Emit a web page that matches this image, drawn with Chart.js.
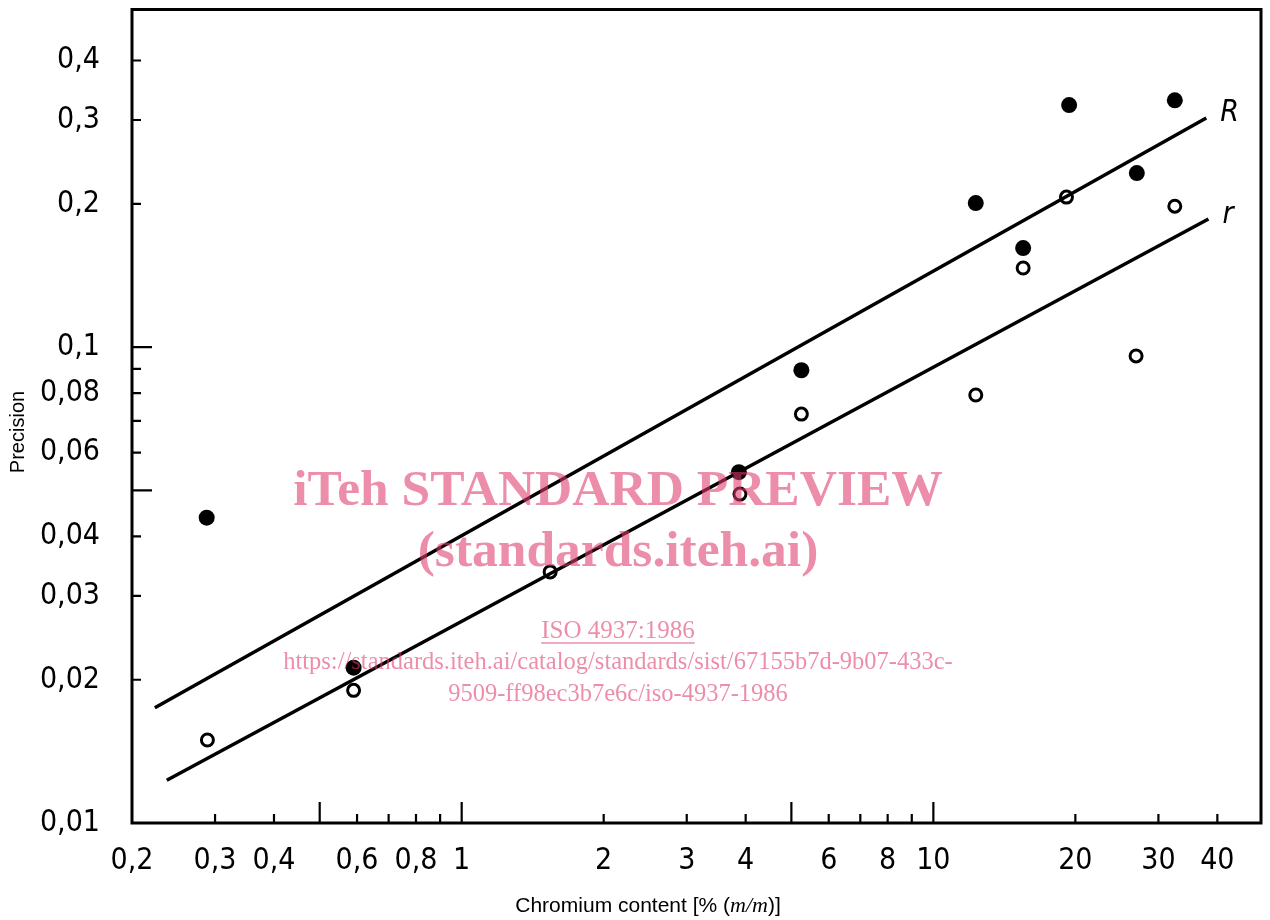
<!DOCTYPE html>
<html>
<head>
<meta charset="utf-8">
<title>Precision vs chromium content</title>
<script src="https://cdn.jsdelivr.net/npm/chart.js@4.4.1/dist/chart.umd.min.js"></script>
<style>
  html, body { margin: 0; padding: 0; background: #fff; overflow: hidden; }
  canvas { display: block; }
</style>
</head>
<body>
<canvas id="stage" width="1270" height="920" style="width:1270px;height:920px"></canvas>
<script>
// 測定点 (filled = R, open = r)
const filledX = [0.288, 0.59, 3.87, 5.25, 12.3, 15.5, 19.4, 27.0, 32.5];
const filledY = [0.0438, 0.0212, 0.0546, 0.0894, 0.2007, 0.1614, 0.3224, 0.232, 0.330];
const openX = [0.289, 0.59, 1.54, 3.89, 5.25, 12.3, 15.5, 19.15, 26.9, 32.5];
const openY = [0.01494, 0.0190, 0.0337, 0.0491, 0.0723, 0.0793, 0.1466, 0.2066, 0.0958, 0.1977];

// 回帰線の端点
const lineRX = [0.2236, 37.9];
const lineRY = [0.01746, 0.303];
const lineSmallRX = [0.237, 38.3];
const lineSmallRY = [0.0123, 0.1858];

// 目盛り
const xLabelVals = [0.2, 0.3, 0.4, 0.6, 0.8, 1, 2, 3, 4, 6, 8, 10, 20, 30, 40];
const xShortTicks = [0.3, 0.4, 0.6, 0.7, 0.8, 0.9, 2, 3, 4, 6, 7, 8, 9, 20, 30, 40];
const xLongTicks = [0.5, 1, 5, 10];
const yLabelVals = [0.01, 0.02, 0.03, 0.04, 0.06, 0.08, 0.1, 0.2, 0.3, 0.4];
const yShortTicks = [0.02, 0.03, 0.04, 0.06, 0.07, 0.08, 0.09, 0.2, 0.3, 0.4];
const yLongTicks = [0.05, 0.1];

const tickFont = "'Liberation Sans Narrow', 'DejaVu Sans Condensed', sans-serif";
const pink = 'rgba(222, 58, 108, 0.58)';

function toPts(xs, ys) {
  return xs.map((x, i) => ({x: x, y: ys[i]}));
}
function comma(v) {
  return String(v).replace('.', ',');
}

const decoPlugin = {
  id: 'deco',
  afterDraw(chart) {
    const ctx = chart.ctx;
    const a = chart.chartArea;
    const xs = chart.scales.x, ys = chart.scales.y;
    ctx.save();
    ctx.strokeStyle = '#000';
    ctx.lineWidth = 3;
    ctx.strokeRect(a.left, a.top, a.right - a.left, a.bottom - a.top);

    // 内向きの目盛り
    ctx.lineWidth = 2.2;
    ctx.beginPath();
    xShortTicks.forEach(v => { const p = xs.getPixelForValue(v); ctx.moveTo(p, a.bottom); ctx.lineTo(p, a.bottom - 9); });
    xLongTicks.forEach(v => { const p = xs.getPixelForValue(v); ctx.moveTo(p, a.bottom); ctx.lineTo(p, a.bottom - 21); });
    yShortTicks.forEach(v => { const p = ys.getPixelForValue(v); ctx.moveTo(a.left, p); ctx.lineTo(a.left + 9, p); });
    yLongTicks.forEach(v => { const p = ys.getPixelForValue(v); ctx.moveTo(a.left, p); ctx.lineTo(a.left + 20, p); });
    ctx.stroke();

    // 軸タイトル
    ctx.fillStyle = '#000';
    ctx.font = "20px 'Liberation Sans', Arial, sans-serif";
    ctx.textBaseline = 'middle';
    ctx.textAlign = 'center';
    ctx.save();
    ctx.translate(18, 432);
    ctx.rotate(-Math.PI / 2);
    ctx.fillText('Precision', 0, 0);
    ctx.restore();

    const p1 = 'Chromium content [% (', p2 = 'm/m', p3 = ')]';
    const f1 = "21px 'Liberation Sans', Arial, sans-serif";
    const f2 = "italic 22px 'Liberation Serif', serif";
    ctx.font = f1; const w1 = ctx.measureText(p1).width, w3 = ctx.measureText(p3).width;
    ctx.font = f2; const w2 = ctx.measureText(p2).width;
    let tx = 648 - (w1 + w2 + w3) / 2;
    ctx.textAlign = 'left';
    ctx.font = f1; ctx.fillText(p1, tx, 906); tx += w1;
    ctx.font = f2; ctx.fillText(p2, tx, 906); tx += w2;
    ctx.font = f1; ctx.fillText(p3, tx, 906);

    // 線のラベル
    ctx.font = "italic 30px " + tickFont;
    ctx.fillText('R', xs.getPixelForValue(lineRX[1]) + 14, ys.getPixelForValue(lineRY[1]) - 5);
    ctx.fillText('r', xs.getPixelForValue(lineSmallRX[1]) + 14, ys.getPixelForValue(lineSmallRY[1]) - 4);

    // 透かし
    ctx.fillStyle = pink;
    ctx.strokeStyle = pink;
    ctx.textAlign = 'center';
    ctx.font = "bold 51.5px 'Liberation Serif', serif";
    ctx.fillText('iTeh STANDARD PREVIEW', 618, 492);
    ctx.fillText('(standards.iteh.ai)', 618, 553);
    ctx.font = "25px 'Liberation Serif', serif";
    ctx.fillText('ISO 4937:1986', 618, 631);
    const uw = ctx.measureText('ISO 4937:1986').width;
    ctx.lineWidth = 1.5;
    ctx.beginPath();
    ctx.moveTo(618 - uw / 2, 643); ctx.lineTo(618 + uw / 2, 643);
    ctx.stroke();
    ctx.font = "24.5px 'Liberation Serif', serif";
    ctx.fillText('https://standards.iteh.ai/catalog/standards/sist/67155b7d-9b07-433c-', 618, 663);
    ctx.fillText('9509-ff98ec3b7e6c/iso-4937-1986', 618, 695);
    ctx.restore();
  }
};

new Chart(document.getElementById('stage'), {
  type: 'scatter',
  data: {
    datasets: [{
      label: 'R line',
      type: 'line',
      data: toPts(lineRX, lineRY),
      borderColor: '#000',
      borderWidth: 3.5,
      pointRadius: 0,
      fill: false
    }, {
      label: 'r line',
      type: 'line',
      data: toPts(lineSmallRX, lineSmallRY),
      borderColor: '#000',
      borderWidth: 3.5,
      pointRadius: 0,
      fill: false
    }, {
      label: 'R',
      data: toPts(filledX, filledY),
      backgroundColor: '#000',
      borderColor: '#000',
      pointRadius: 8,
      borderWidth: 0
    }, {
      label: 'r',
      data: toPts(openX, openY),
      backgroundColor: '#fff',
      borderColor: '#000',
      pointRadius: 6,
      borderWidth: 3
    }]
  },
  options: {
    responsive: false,
    animation: false,
    devicePixelRatio: 1,
    layout: { padding: { left: 0, right: 3, top: 9.5, bottom: 0 } },
    plugins: { legend: { display: false }, tooltip: { enabled: false } },
    scales: {
      x: {
        type: 'logarithmic',
        min: 0.2,
        max: 49.5,
        grid: { display: false, drawTicks: false },
        border: { display: false },
        afterBuildTicks: s => { s.ticks = xLabelVals.map(v => ({value: v})); },
        afterFit: s => { s.height = 97; s.paddingLeft = 0; s.paddingRight = 0; },
        ticks: {
          autoSkip: false,
          maxRotation: 0,
          padding: 20,
          color: '#000',
          font: { family: tickFont, size: 30 },
          callback: v => comma(v)
        }
      },
      y: {
        type: 'logarithmic',
        min: 0.01,
        max: 0.512,
        grid: { display: false, drawTicks: false },
        border: { display: false },
        afterBuildTicks: s => { s.ticks = yLabelVals.map(v => ({value: v})); },
        afterFit: s => { s.width = 132; s.paddingTop = 0; s.paddingBottom = 0; },
        ticks: {
          autoSkip: false,
          padding: 32,
          color: '#000',
          font: { family: tickFont, size: 30 },
          callback: v => comma(v)
        }
      }
    }
  },
  plugins: [decoPlugin]
});
</script>
</body>
</html>
